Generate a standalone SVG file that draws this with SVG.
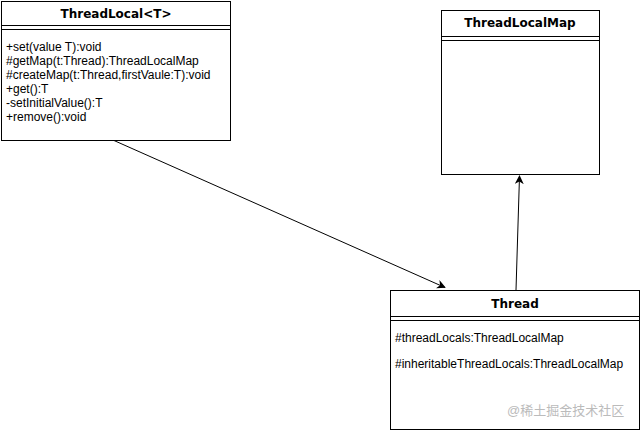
<svg xmlns="http://www.w3.org/2000/svg" width="641" height="431" viewBox="0 0 641 431">
<style>
.box{fill:#fff;stroke:#000;stroke-width:1}
.ln{stroke:#000;stroke-width:1}
.title{font-family:"DejaVu Sans",Verdana,sans-serif;font-weight:bold;font-size:12px;text-anchor:middle}
.body{font-family:"Liberation Sans",Arial,sans-serif;font-size:12px}
.wm{font-family:"Liberation Sans","Noto Sans CJK SC",sans-serif;font-size:13px;fill:#bbb}
.conn{stroke:#000;stroke-width:1;fill:none}
</style>
<defs>
<marker id="arr" viewBox="0 0 10 10" refX="9" refY="5" markerWidth="9" markerHeight="9" markerUnits="userSpaceOnUse" orient="auto">
<path d="M0,0 L10,5 L0,10 L3,5 z" fill="#000"/>
</marker>
</defs>
<rect width="641" height="431" fill="#fff"/>
<g id="connectors">
<line class="conn" x1="114" y1="140.5" x2="445" y2="287.5" marker-end="url(#arr)"/>
<line class="conn" x1="516" y1="290" x2="519.5" y2="176" marker-end="url(#arr)"/>
</g>
<g id="threadlocal">
<rect class="box" x="1.5" y="1.5" width="229" height="139"/>
<line class="ln" x1="1.5" y1="25.5" x2="230.5" y2="25.5"/>
<line class="ln" x1="1.5" y1="29.5" x2="230.5" y2="29.5"/>
<text class="title" x="116" y="18">ThreadLocal&lt;T&gt;</text>
<text class="body" x="6" y="51">+set(value T):void</text>
<text class="body" x="6" y="65">#getMap(t:Thread):ThreadLocalMap</text>
<text class="body" x="6" y="79">#createMap(t:Thread,firstVaule:T):void</text>
<text class="body" x="6" y="93">+get():T</text>
<text class="body" x="6" y="107">-setInitialValue():T</text>
<text class="body" x="6" y="121">+remove():void</text>
</g>
<g id="threadlocalmap">
<rect class="box" x="441.5" y="10.5" width="158" height="164"/>
<line class="ln" x1="441.5" y1="36.5" x2="599.5" y2="36.5"/>
<line class="ln" x1="441.5" y1="40.5" x2="599.5" y2="40.5"/>
<text class="title" x="520" y="27">ThreadLocalMap</text>
</g>
<g id="thread">
<rect class="box" x="390.5" y="290.5" width="249" height="139"/>
<line class="ln" x1="390.5" y1="316.5" x2="639.5" y2="316.5"/>
<line class="ln" x1="390.5" y1="320.5" x2="639.5" y2="320.5"/>
<text class="title" x="515" y="308">Thread</text>
<text class="body" x="395" y="342">#threadLocals:ThreadLocalMap</text>
<text class="body" x="395" y="368">#inheritableThreadLocals:ThreadLocalMap</text>
</g>
<text class="wm" x="507" y="415">@稀土掘金技术社区</text>
</svg>
